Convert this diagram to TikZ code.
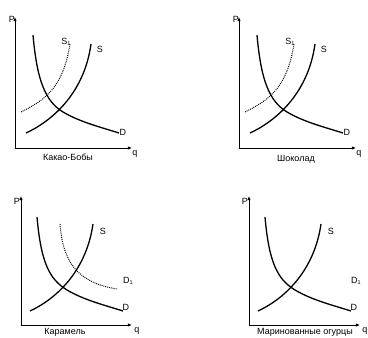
\documentclass[tikz,border=0pt]{standalone}
\usepackage{fontspec}
\setmainfont{Liberation Sans}
\usetikzlibrary{arrows.meta}
\newcommand{\sbone}{{\fontsize{5.5}{6}\selectfont\raisebox{-1.2pt}{1}}}
\begin{document}
\begin{tikzpicture}[x=1pt,y=-1pt,
 lbl/.style={font=\fontsize{9}{10}\selectfont, inner sep=0pt},
 axis/.style={line width=0.8pt, -{Latex[length=4pt,width=3.4pt]}},
 curve/.style={line width=1.3pt},
 dotcurve/.style={line width=1pt, dash pattern=on 0.9pt off 1pt},
]
\useasboundingbox (0,0) rectangle (368,338);

% ---------- top row ----------
\foreach \dx/\nm in {0/a, 224/b}{
 \begin{scope}[xshift=\dx]
  \coordinate (o\nm) at (15,148);
  \coordinate (p\nm) at (15,17);
  \coordinate (q\nm) at (132,148);
  \draw[axis] (o\nm) -- (p\nm);
  \draw[axis] (o\nm) -- (q\nm);
  \node[lbl] (P\nm) at (12,19) {P};
  \node[lbl] (Q\nm) at (135,154) {q};
  % supply S
  \draw[curve] (26,133) .. controls (50,122) and (84,95) .. (91,44);
  % shifted supply S1
  \draw[dotcurve] (21,112) .. controls (45,100) and (63,88) .. (70,44);
  % demand D
  \draw[curve] (33,35) .. controls (37,80) and (45,101) .. (63,112)
               .. controls (80,122) and (100,127) .. (119,133);
  \node[lbl] (S1\nm) at (66,42) {S\sbone};
  \node[lbl] (S\nm) at (100,49) {S};
  \node[lbl] (D\nm) at (123,132) {D};
 \end{scope}
}
\node[lbl] (La) at (68,157) {Какао-Бобы};
\node[lbl] (Lb) at (296,159) {Шоколад};

% ---------- bottom row ----------
\foreach \dx/\nm in {0/c, 228/d}{
 \begin{scope}[xshift=\dx]
  \coordinate (o\nm) at (21,325);
  \coordinate (p\nm) at (21,196);
  \coordinate (q\nm) at (132,325);
  \draw[axis] (o\nm) -- (p\nm);
  \draw[axis] (o\nm) -- (q\nm);
  \node[lbl] (P\nm) at (17,201) {P};
  \node[lbl] (Q\nm) at (137,331) {q};
  \draw[curve] (30,311) .. controls (54,300) and (86,273) .. (93,224);
  \draw[curve] (37,217) .. controls (41,262) and (49,279) .. (67,290)
               .. controls (84,300) and (104,305) .. (123,311);
  \node[lbl] (S\nm) at (103,231) {S};
  \node[lbl] (D1\nm) at (128,281) {D\sbone};
  \node[lbl] (D\nm) at (126,307) {D};
 \end{scope}
}
\draw[dotcurve] (60,224) .. controls (63,265) and (80,283) .. (117,289);
\node[lbl, anchor=north] (Lc) at (65,328.5) {Карамель};
\node[lbl, anchor=north] (Ld) at (305,328.5) {Маринованные огурцы};
\end{tikzpicture}
\end{document}
